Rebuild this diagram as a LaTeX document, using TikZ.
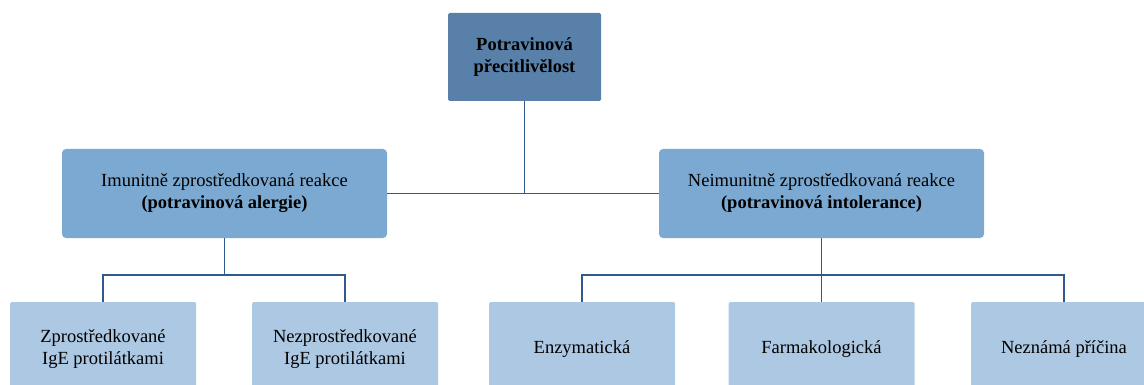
\documentclass[tikz,border=0pt]{standalone}
\usepackage{fontspec}
\setmainfont{Liberation Serif}
\definecolor{topblue}{HTML}{5880A8}
\definecolor{midblue}{HTML}{7CA9D1}
\definecolor{lowblue}{HTML}{ADC8E2}
\definecolor{linkblue}{HTML}{2E5A8C}
\begin{document}
\begin{tikzpicture}[x=1pt,y=-1pt,
  every node/.style={align=center,inner sep=0pt,font=\fontsize{18.5}{22}\selectfont},
  topbox/.style={fill=topblue,rounded corners=1.5pt,minimum width=153pt,minimum height=88pt,font=\fontsize{18.5}{21.5}\selectfont\bfseries},
  midbox/.style={fill=midblue,rounded corners=4pt,minimum width=325pt,minimum height=89pt},
  lowbox/.style={fill=lowblue,rounded corners=1.5pt,minimum width=186pt,minimum height=94pt},
  link/.style={draw=linkblue,line width=1.4pt}]
\useasboundingbox (0,0) rectangle (1144,385);
\clip (0,0) rectangle (1144,385);
\fill[white] (0,0) rectangle (1144,385);
\node[topbox] (top) at (524.5,57) {Potravinová\\přecitlivělost};
\node[midbox] (L) at (224.5,193.5) {Imunitně zprostředkovaná reakce\\\textbf{(potravinová alergie)}};
\node[midbox] (R) at (821.5,193.5) {Neimunitně zprostředkovaná reakce\\\textbf{(potravinová intolerance)}};
\node[lowbox] (Z) at (103,349) {Zprostředkované\\IgE protilátkami};
\node[lowbox] (N) at (345,349) {Nezprostředkované\\IgE protilátkami};
\node[lowbox] (E) at (582,349) {Enzymatická};
\node[lowbox] (F) at (821.5,349) {Farmakologická};
\node[lowbox] (U) at (1064,349) {Neznámá příčina};
\coordinate (lbus) at (224.5,275);
\coordinate (rbus) at (821.5,275);
\draw[link] (L.east) -- (R.west);
\draw[link] (top.south) -- (top.south |- L.east);
\draw[link] (L.south) -- (lbus);
\draw[link] (Z.north) |- (lbus) -| (N.north);
\draw[link] (R.south) -- (F.north);
\draw[link] (E.north) |- (rbus) -| (U.north);
\end{tikzpicture}
\end{document}
